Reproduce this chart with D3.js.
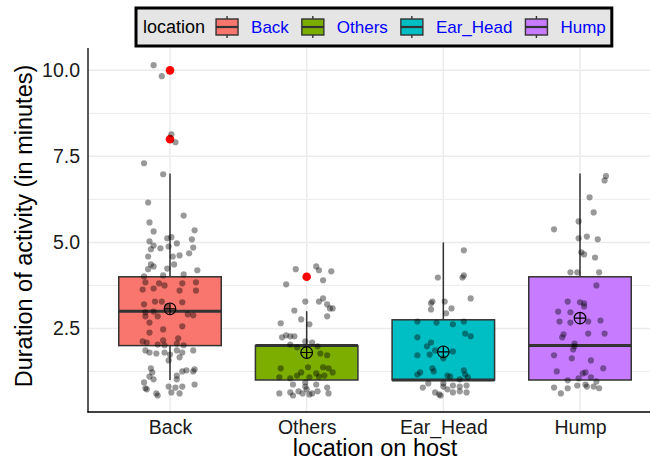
<!DOCTYPE html>
<html>
<head>
<meta charset="utf-8">
<script src="https://cdn.jsdelivr.net/npm/d3@7/dist/d3.min.js"></script>
<style>
  body { margin: 0; background: #fff; }
  svg { display: block; font-family: "Liberation Sans", Arial, sans-serif; }
</style>
</head>
<body>
<div id="chart"></div>
<script>
// categories and colours (ggplot default hue palette)
var categories = ['Back', 'Others', 'Ear_Head', 'Hump'];
var fills = ['#F8766D', '#7CAE00', '#00BFC4', '#C77CFF'];

// box stats
var q1 = [2, 1, 1, 1];
var medians = [3, 2, 1, 2];
var q3 = [4, 2, 2.75, 4];
var whiskLo = [1, 1, 1, 1];
var whiskHi = [7, 3, 5, 7];
var means = [3.07, 1.8, 1.82, 2.8];
// outliers: [category index, value]
var outliers = [[0, 10], [0, 8], [1, 4]];

var yTicks = [2.5, 5, 7.5, 10];
var yMinor = [1.25, 3.75, 6.25, 8.75];

// jittered points: [x jitter (category units), value]
var backPts = [
  [-0.12, 10.15], [-0.06, 9.83], [0.01, 8.14], [0.04, 7.91], [-0.19, 7.30], [-0.05, 6.98],
  [-0.16, 6.16], [0.10, 5.78], [-0.15, 5.58], [0.18, 5.35], [-0.12, 5.32], [-0.02, 5.12],
  [0.01, 5.15], [0.16, 5.09], [-0.15, 5.03], [0.05, 4.97], [-0.12, 4.91], [0.17, 4.85],
  [-0.14, 4.80], [-0.07, 4.83], [-0.01, 4.88], [0.14, 4.68], [-0.16, 4.59], [0.02, 4.59],
  [0.07, 4.62], [-0.14, 4.36], [-0.12, 4.30], [-0.16, 4.22], [-0.02, 4.24], [0.03, 4.36],
  [0.10, 4.07], [0.20, 4.19], [-0.19, 4.01], [-0.05, 4.04],
  [-0.18, 3.84], [-0.08, 3.81], [-0.04, 3.75], [0.09, 3.81], [0.19, 3.84], [-0.20, 3.63],
  [-0.12, 3.66], [0.07, 3.60], [0.19, 3.60], [-0.11, 3.28], [-0.19, 3.20], [-0.06, 3.28],
  [0.09, 3.26], [-0.18, 2.97], [-0.18, 2.85], [-0.12, 2.99], [-0.09, 2.85], [-0.02, 3.14],
  [0.13, 2.91], [0.17, 2.88], [-0.15, 2.67], [-0.15, 2.38], [-0.05, 2.47], [0.09, 2.56],
  [0.06, 2.21], [-0.20, 2.12], [-0.17, 2.09], [-0.05, 2.15], [0.05, 2.06], [0.10, 2.01],
  [-0.04, 2.01], [-0.09, 2.03],
  [-0.18, 1.86], [-0.15, 1.80], [-0.10, 1.77], [-0.04, 1.80], [0.00, 1.74], [0.05, 1.86],
  [0.09, 1.80], [0.17, 1.86], [0.07, 1.66], [-0.01, 1.57], [-0.14, 1.34], [-0.13, 1.22],
  [0.18, 1.31], [0.12, 1.28], [0.09, 1.25], [0.05, 1.13], [-0.12, 1.02], [-0.19, 0.93],
  [0.05, 1.02], [-0.01, 0.81], [0.04, 0.78], [0.09, 0.81], [0.18, 0.87], [-0.18, 0.76],
  [-0.10, 0.61], [-0.09, 0.55], [0.07, 0.61], [0.01, 0.64], [-0.17, 0.73], [0.17, 1.25],
  [-0.15, 1.10]
];
var othersPts = [
  [-0.08, 4.22], [0.07, 4.30], [0.09, 4.19], [0.18, 4.16], [-0.15, 3.78], [0.12, 3.90],
  [-0.01, 3.28], [0.09, 3.28], [0.12, 3.37], [0.15, 3.20], [-0.09, 3.02], [0.17, 3.08],
  [0.19, 3.08], [-0.04, 2.76], [0.15, 2.85], [-0.19, 2.65], [0.02, 2.62], [-0.18, 2.24],
  [-0.15, 2.30], [-0.12, 2.27], [-0.09, 2.27], [-0.01, 2.12], [0.04, 2.09], [-0.12, 2.03],
  [-0.07, 1.95], [0.08, 1.98], [0.10, 1.77], [0.15, 1.72], [-0.19, 1.34], [0.01, 1.37],
  [0.12, 1.37], [0.16, 1.34], [-0.04, 1.22], [-0.07, 1.13], [0.07, 1.19], [0.19, 1.22],
  [-0.20, 1.08], [-0.12, 1.05], [0.02, 1.08], [0.09, 1.10], [0.13, 1.13], [-0.10, 0.87],
  [-0.01, 0.93], [0.07, 0.87], [0.15, 0.78], [-0.06, 0.67], [0.00, 0.73], [0.08, 0.67],
  [-0.20, 0.61], [-0.12, 0.64], [-0.10, 0.55], [-0.03, 0.61], [0.02, 0.58], [0.04, 0.61],
  [0.16, 0.61], [-0.01, 0.81]
];
var earPts = [
  [0.15, 4.77], [-0.04, 3.98], [0.14, 3.98], [0.15, 4.04], [0.20, 3.37], [-0.08, 3.28],
  [-0.09, 3.23], [0.01, 3.28], [0.06, 3.08], [-0.09, 3.05], [0.02, 2.94], [-0.19, 2.70],
  [-0.05, 2.67], [0.07, 2.62], [0.15, 2.70], [0.16, 2.35], [0.20, 2.27], [-0.19, 2.24],
  [-0.09, 2.09], [-0.12, 1.98], [-0.06, 1.86], [-0.10, 1.74], [0.07, 1.83], [-0.19, 1.72],
  [0.00, 1.63], [-0.08, 1.34], [-0.07, 1.25], [-0.17, 1.22], [-0.19, 1.16], [0.15, 1.28],
  [0.16, 1.16], [0.03, 1.13], [0.05, 1.10], [0.12, 1.02], [0.18, 1.08], [0.00, 0.90],
  [-0.11, 0.90], [-0.15, 0.78], [0.00, 0.81], [0.07, 0.84], [0.12, 0.81], [0.17, 0.84],
  [-0.06, 0.64], [-0.03, 0.58], [0.07, 0.64], [0.12, 0.67], [0.17, 0.64], [-0.02, 0.55],
  [0.03, 0.73]
];
var humpPts = [
  [0.19, 6.93], [0.18, 6.80], [0.07, 6.31], [0.10, 5.87], [-0.01, 5.61], [-0.19, 5.38],
  [-0.01, 5.12], [0.05, 5.17], [0.13, 5.09], [0.01, 4.71], [0.03, 4.65], [0.11, 4.56],
  [-0.07, 4.13], [-0.02, 4.13], [0.14, 4.13], [0.12, 3.75], [-0.09, 3.28], [0.00, 3.26],
  [0.03, 3.23], [0.03, 3.14], [-0.16, 2.99], [-0.07, 2.97], [-0.15, 2.70], [-0.07, 2.67],
  [0.06, 2.70], [0.15, 2.73], [-0.12, 2.33], [-0.13, 2.24], [0.06, 2.35], [0.18, 2.35],
  [-0.04, 2.06], [-0.04, 1.98], [-0.05, 1.89], [-0.19, 1.72], [-0.06, 1.63], [0.08, 1.57],
  [0.17, 1.34], [-0.17, 1.25], [0.02, 1.19], [0.04, 1.22], [-0.01, 1.05], [0.08, 1.08],
  [-0.09, 0.99], [0.12, 0.96], [-0.02, 0.84], [0.04, 0.87], [0.05, 0.81], [0.10, 0.81],
  [0.14, 0.76], [-0.19, 0.78], [-0.09, 0.76], [-0.14, 0.61]
];
var points = [backPts, othersPts, earPts, humpPts];

var width = 650, height = 462;
var panel = { left: 88, right: 662, top: 48, bottom: 412 };

var svg = d3.select('#chart').append('svg')
    .attr('width', width)
    .attr('height', height);

var x = d3.scaleLinear().domain([0.4, 4.6]).range([panel.left, panel.right]);
var y = d3.scaleLinear().domain([0.07, 10.65]).range([panel.bottom, panel.top]);
var step = x(2) - x(1);
var boxW = 0.75 * step;

// grid
var grid = svg.append('g');
grid.selectAll('.minor').data(yMinor).enter().append('line')
    .attr('x1', panel.left).attr('x2', panel.right)
    .attr('y1', function(d) { return y(d); }).attr('y2', function(d) { return y(d); })
    .attr('stroke', '#ebebeb').attr('stroke-width', 1);
grid.selectAll('.major').data(yTicks).enter().append('line')
    .attr('x1', panel.left).attr('x2', panel.right)
    .attr('y1', function(d) { return y(d); }).attr('y2', function(d) { return y(d); })
    .attr('stroke', '#ebebeb').attr('stroke-width', 1.5);
grid.selectAll('.vert').data(categories).enter().append('line')
    .attr('x1', function(d, i) { return x(i + 1); }).attr('x2', function(d, i) { return x(i + 1); })
    .attr('y1', panel.top).attr('y2', panel.bottom)
    .attr('stroke', '#ebebeb').attr('stroke-width', 1.5);

// boxplots
var boxes = svg.append('g').selectAll('g').data(categories).enter().append('g');
boxes.append('line')
    .attr('x1', function(d, i) { return x(i + 1); }).attr('x2', function(d, i) { return x(i + 1); })
    .attr('y1', function(d, i) { return y(q3[i]); }).attr('y2', function(d, i) { return y(whiskHi[i]); })
    .attr('stroke', '#333').attr('stroke-width', 1.5);
boxes.append('line')
    .attr('x1', function(d, i) { return x(i + 1); }).attr('x2', function(d, i) { return x(i + 1); })
    .attr('y1', function(d, i) { return y(q1[i]); }).attr('y2', function(d, i) { return y(whiskLo[i]); })
    .attr('stroke', '#333').attr('stroke-width', 1.5);
boxes.append('rect')
    .attr('x', function(d, i) { return x(i + 1) - boxW / 2; })
    .attr('width', boxW)
    .attr('y', function(d, i) { return y(q3[i]); })
    .attr('height', function(d, i) { return y(q1[i]) - y(q3[i]); })
    .attr('fill', function(d, i) { return fills[i]; })
    .attr('stroke', '#333').attr('stroke-width', 1.5);
boxes.append('line')
    .attr('x1', function(d, i) { return x(i + 1) - boxW / 2; })
    .attr('x2', function(d, i) { return x(i + 1) + boxW / 2; })
    .attr('y1', function(d, i) { return y(medians[i]); }).attr('y2', function(d, i) { return y(medians[i]); })
    .attr('stroke', '#333').attr('stroke-width', 3);

svg.append('g').selectAll('circle').data(outliers).enter().append('circle')
    .attr('cx', function(d) { return x(d[0] + 1); })
    .attr('cy', function(d) { return y(d[1]); })
    .attr('r', 4.3)
    .attr('fill', 'red');

// jitter
var jit = svg.append('g');
points.forEach(function(pts, i) {
  jit.selectAll('.p' + i).data(pts).enter().append('circle')
      .attr('cx', function(d) { return x(i + 1 + d[0]); })
      .attr('cy', function(d) { return y(d[1]); })
      .attr('r', 3.1)
      .attr('fill', '#000')
      .attr('fill-opacity', 0.4);
});

// mean markers (circle with cross)
var mk = svg.append('g').selectAll('g').data(means).enter().append('g')
    .attr('transform', function(d, i) { return 'translate(' + x(i + 1) + ',' + y(d) + ')'; });
mk.append('circle').attr('r', 5.8).attr('fill', 'none').attr('stroke', '#000').attr('stroke-width', 1.2);
mk.append('path').attr('d', 'M-5.8,0H5.8M0,-5.8V5.8').attr('stroke', '#000').attr('stroke-width', 1.2);

// axes
var yAxis = d3.axisLeft(y).tickValues(yTicks).tickFormat(d3.format('.1f')).tickSize(0).tickPadding(8);
var gy = svg.append('g').attr('transform', 'translate(' + panel.left + ',0)').call(yAxis);
gy.select('.domain').remove();
gy.selectAll('text').attr('font-size', 19.5).attr('fill', '#1a1a1a')
    .attr('font-family', '"Liberation Sans", Arial, sans-serif');

var xAxis = d3.axisBottom(x).tickValues([1, 2, 3, 4])
    .tickFormat(function(d) { return categories[d - 1]; }).tickSize(0).tickPadding(8);
var gx = svg.append('g').attr('transform', 'translate(0,' + panel.bottom + ')').call(xAxis);
gx.select('.domain').remove();
gx.selectAll('text').attr('font-size', 19.5).attr('fill', '#1a1a1a')
    .attr('font-family', '"Liberation Sans", Arial, sans-serif');

svg.append('line').attr('x1', panel.left).attr('x2', panel.left)
    .attr('y1', panel.top).attr('y2', panel.bottom + 0.6)
    .attr('stroke', '#000').attr('stroke-width', 1.3);
svg.append('line').attr('x1', panel.left - 0.6).attr('x2', panel.right)
    .attr('y1', panel.bottom).attr('y2', panel.bottom)
    .attr('stroke', '#000').attr('stroke-width', 1.3);

svg.append('text')
    .attr('x', 375).attr('y', 456)
    .attr('text-anchor', 'middle').attr('font-size', 23.5)
    .text('location on host');
svg.append('text')
    .attr('transform', 'translate(32,' + ((panel.top + panel.bottom) / 2 - 4) + ') rotate(-90)')
    .attr('text-anchor', 'middle').attr('font-size', 23.5)
    .text('Duration of activity (in minutes)');

// legend
var leg = svg.append('g');
var legRect = leg.append('rect')
    .attr('x', 136).attr('y', 8).attr('height', 38)
    .attr('fill', '#e5e5e5').attr('stroke', '#000').attr('stroke-width', 3);
var cx = 143, cy = 27;
var title = leg.append('text').attr('x', cx).attr('y', cy).attr('dy', '0.35em')
    .attr('font-size', 18).text('location');
cx += title.node().getComputedTextLength() + 11;
categories.forEach(function(c, i) {
  var kw = 22;
  var kg = leg.append('g').attr('transform', 'translate(' + cx + ',' + cy + ')');
  kg.append('line').attr('x1', kw / 2).attr('x2', kw / 2).attr('y1', -11).attr('y2', 11)
      .attr('stroke', '#333').attr('stroke-width', 1.4);
  kg.append('rect').attr('x', 0).attr('y', -8).attr('width', kw).attr('height', 16)
      .attr('fill', fills[i]).attr('stroke', '#333').attr('stroke-width', 1.4);
  kg.append('line').attr('x1', 0).attr('x2', kw).attr('y1', 0).attr('y2', 0)
      .attr('stroke', '#333').attr('stroke-width', 2.2);
  cx += kw + 13;
  var t = leg.append('text').attr('x', cx).attr('y', cy).attr('dy', '0.35em')
      .attr('font-size', 17).attr('fill', '#0000FF').text(c);
  cx += t.node().getComputedTextLength() + 13;
});
legRect.attr('width', cx - 136 - 7);
</script>
</body>
</html>
